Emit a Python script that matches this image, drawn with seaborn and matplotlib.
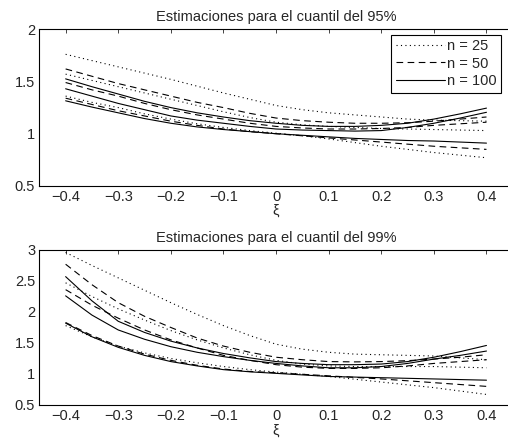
import numpy as np
import pandas as pd
import matplotlib
matplotlib.use("Agg")
import matplotlib.pyplot as plt
import seaborn as sns

xi = [-0.4, -0.35, -0.3, -0.25, -0.2, -0.15, -0.1, -0.05, 0.0,
      0.05, 0.1, 0.15, 0.2, 0.25, 0.3, 0.35, 0.4]

# Quantile 95%
q95_n25_up = [1.76, 1.70, 1.64, 1.58, 1.52, 1.455, 1.39, 1.33, 1.27, 1.23, 1.20, 1.18, 1.16, 1.14, 1.13, 1.125, 1.12]
q95_n25_mid = [1.57, 1.51, 1.45, 1.39, 1.33, 1.27, 1.21, 1.155, 1.11, 1.085, 1.07, 1.06, 1.05, 1.045, 1.04, 1.035, 1.03]
q95_n25_low = [1.36, 1.30, 1.25, 1.19, 1.14, 1.095, 1.06, 1.03, 1.005, 0.98, 0.95, 0.915, 0.88, 0.85, 0.82, 0.795, 0.77]
q95_n50_up = [1.62, 1.55, 1.48, 1.42, 1.36, 1.30, 1.25, 1.195, 1.15, 1.125, 1.11, 1.10, 1.10, 1.105, 1.12, 1.14, 1.16]
q95_n50_mid = [1.49, 1.42, 1.36, 1.29, 1.23, 1.18, 1.14, 1.10, 1.07, 1.055, 1.045, 1.045, 1.05, 1.06, 1.08, 1.095, 1.11]
q95_n50_low = [1.34, 1.28, 1.22, 1.17, 1.12, 1.08, 1.045, 1.02, 1.0, 0.98, 0.96, 0.94, 0.92, 0.90, 0.88, 0.865, 0.85]
q95_n100_up = [1.525, 1.45, 1.38, 1.31, 1.25, 1.20, 1.16, 1.125, 1.10, 1.08, 1.07, 1.07, 1.08, 1.10, 1.14, 1.19, 1.245]
q95_n100_mid = [1.43, 1.36, 1.29, 1.23, 1.17, 1.13, 1.10, 1.07, 1.045, 1.035, 1.03, 1.025, 1.03, 1.06, 1.10, 1.15, 1.205]
q95_n100_low = [1.315, 1.255, 1.20, 1.145, 1.10, 1.065, 1.04, 1.02, 1.0, 0.985, 0.97, 0.955, 0.945, 0.935, 0.93, 0.92, 0.91]

# Quantile 99%
q99_n25_up = [2.96, 2.75, 2.55, 2.35, 2.15, 1.96, 1.78, 1.62, 1.48, 1.40, 1.35, 1.32, 1.31, 1.30, 1.29, 1.26, 1.23]
q99_n25_mid = [2.47, 2.25, 2.05, 1.87, 1.70, 1.55, 1.42, 1.31, 1.22, 1.16, 1.13, 1.12, 1.12, 1.12, 1.12, 1.11, 1.10]
q99_n25_low = [1.78, 1.60, 1.45, 1.34, 1.25, 1.18, 1.12, 1.07, 1.03, 0.995, 0.96, 0.915, 0.87, 0.825, 0.78, 0.725, 0.67]
q99_n50_up = [2.77, 2.44, 2.15, 1.93, 1.75, 1.58, 1.45, 1.35, 1.27, 1.23, 1.20, 1.195, 1.20, 1.215, 1.24, 1.27, 1.31]
q99_n50_mid = [2.36, 2.11, 1.90, 1.71, 1.55, 1.42, 1.30, 1.22, 1.15, 1.11, 1.09, 1.09, 1.10, 1.13, 1.17, 1.20, 1.23]
q99_n50_low = [1.83, 1.62, 1.45, 1.32, 1.22, 1.14, 1.08, 1.04, 1.02, 0.995, 0.97, 0.945, 0.92, 0.89, 0.86, 0.83, 0.80]
q99_n100_up = [2.57, 2.18, 1.85, 1.67, 1.53, 1.42, 1.33, 1.26, 1.20, 1.17, 1.15, 1.15, 1.16, 1.20, 1.27, 1.36, 1.46]
q99_n100_mid = [2.26, 1.95, 1.71, 1.56, 1.44, 1.35, 1.28, 1.22, 1.17, 1.13, 1.10, 1.10, 1.12, 1.17, 1.24, 1.30, 1.37]
q99_n100_low = [1.82, 1.60, 1.43, 1.30, 1.20, 1.13, 1.07, 1.035, 1.01, 0.985, 0.96, 0.95, 0.94, 0.93, 0.92, 0.91, 0.90]

sizes = ["n = 25", "n = 50", "n = 100"]
titles = ["Estimaciones para el cuantil del 95%", "Estimaciones para el cuantil del 99%"]
x_ticks = [-0.4, -0.3, -0.2, -0.1, 0.0, 0.1, 0.2, 0.3, 0.4]
x_ticklabels = ["\u22120.4", "\u22120.3", "\u22120.2", "\u22120.1", "0", "0.1", "0.2", "0.3", "0.4"]
y_ticks_95 = [0.5, 1, 1.5, 2]
y_ticklabels_95 = ["0.5", "1", "1.5", "2"]
y_ticks_99 = [0.5, 1, 1.5, 2, 2.5, 3]
y_ticklabels_99 = ["0.5", "1", "1.5", "2", "2.5", "3"]

panels = [
    {"n = 25": [q95_n25_up, q95_n25_mid, q95_n25_low],
     "n = 50": [q95_n50_up, q95_n50_mid, q95_n50_low],
     "n = 100": [q95_n100_up, q95_n100_mid, q95_n100_low]},
    {"n = 25": [q99_n25_up, q99_n25_mid, q99_n25_low],
     "n = 50": [q99_n50_up, q99_n50_mid, q99_n50_low],
     "n = 100": [q99_n100_up, q99_n100_mid, q99_n100_low]},
]

sns.set_style("white")
plt.rcParams["font.family"] = ["Liberation Sans", "DejaVu Sans"]

styles = {"n = 25": (0, (1, 3)), "n = 50": (0, (6, 4)), "n = 100": "-"}

fig = plt.figure(figsize=(5.08, 4.47), dpi=100)
ax1 = fig.add_axes([0.0774, 0.584, 0.932, 0.3506])
ax2 = fig.add_axes([0.0774, 0.094, 0.932, 0.3468])
axes = [ax1, ax2]

for k, ax in enumerate(axes):
    handles = {}
    for name in sizes:
        for j, series in enumerate(panels[k][name]):
            df = pd.DataFrame({"xi": xi, "v": series})
            sns.lineplot(data=df, x="xi", y="v", ax=ax, color="black",
                         linewidth=0.8, linestyle=styles[name], estimator=None,
                         sort=False)
            handles[name] = ax.lines[-1]
    ax.set_xlim(-0.45, 0.45)
    ax.set_xticks(x_ticks)
    ax.set_xticklabels(x_ticklabels)
    ax.set_xlabel("\u03be", fontsize=10.5, labelpad=0)
    ax.set_ylabel("")
    ax.set_title(titles[k], fontsize=10.5, pad=6)
    ax.tick_params(direction="in", length=3, width=0.6, top=True, right=True,
                   labelsize=10.5, pad=3)
    for s in ax.spines.values():
        s.set_linewidth(0.8)
        s.set_color("black")
    if k == 0:
        ax.set_ylim(0.5, 2)
        ax.set_yticks(y_ticks_95)
        ax.set_yticklabels(y_ticklabels_95)
        leg = ax.legend([handles[n] for n in sizes], sizes, loc="upper right",
                        bbox_to_anchor=(0.982, 0.985), fontsize=10.5,
                        frameon=True, fancybox=False, framealpha=1,
                        handlelength=3.4, handletextpad=0.15, borderpad=0.3,
                        labelspacing=0.25, borderaxespad=0.2)
        leg.get_frame().set_edgecolor("black")
        leg.get_frame().set_linewidth(0.8)
    else:
        ax.set_ylim(0.5, 3)
        ax.set_yticks(y_ticks_99)
        ax.set_yticklabels(y_ticklabels_99)

fig.savefig("out.png", dpi=100)
